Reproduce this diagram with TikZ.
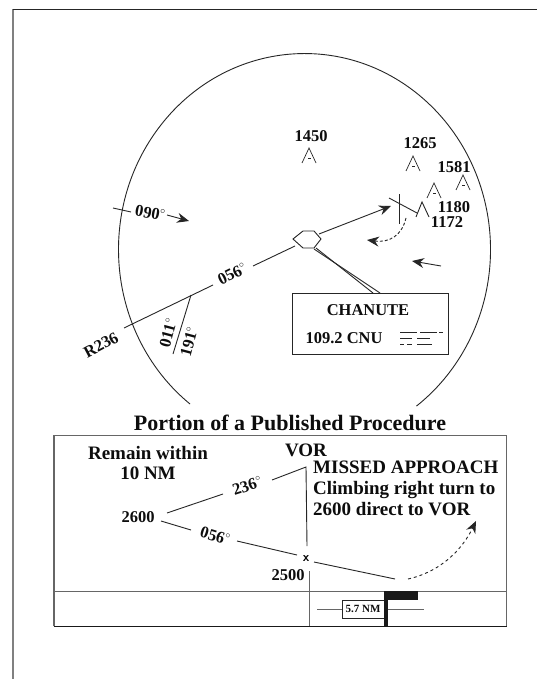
\documentclass[tikz,border=0pt]{standalone}
\usepackage{fontspec}
\setmainfont{Liberation Serif}
\usetikzlibrary{arrows.meta}
\tikzset{
 x=1pt,y=-1pt,
 lbl/.style={font=\bfseries\fontsize{16.5}{18}\selectfont,text=black!95,inner sep=0pt},
 lowlbl/.style={font=\bfseries\fontsize{19}{20.7}\selectfont,text=black!95,inner sep=0pt},
 big/.style={font=\bfseries\fontsize{22}{24}\selectfont,text=black!95,inner sep=0pt},
 smalltxt/.style={font=\bfseries\fontsize{11}{12}\selectfont,text=black!95,inner sep=0pt},
 ln/.style={line width=0.9pt,draw=black!85},
 frame/.style={line width=1pt,draw=black!60},
 arr/.style={line width=0.9pt,draw=black!85,-{Stealth[length=12pt,width=10pt,inset=4pt]}},
 obst/.style={line width=0.7pt,draw=black!85}
}
\newcommand{\degsym}{\raisebox{0.4em}{\fontsize{10}{10}\selectfont$\circ$}}
\newcommand{\obstacle}[2]{\draw[obst] (#1-7,#2+15) -- (#1,#2) -- (#1+7,#2+15); \fill[black!85] (#1-1.5,#2+10) rectangle (#1+1.5,#2+11.2);}
\begin{document}
\begin{tikzpicture}
\useasboundingbox (0,0) rectangle (537,679);
\fill[white] (0,0) rectangle (537,679);
\draw[line width=1.6pt,black!50] (13,9) -- (13,679);
\draw[line width=0.9pt,black!85] (12.5,9) -- (537,9);
% circle
\draw[ln] (190,404) arc[start angle=232,end angle=-53,x radius=186pt,y radius=196pt];
% 090
\node[lbl,rotate=-10] (t090) at (150,213) {090\degsym};
\coordinate (a1) at (113,208); \coordinate (a2) at (131,212);
\draw[ln] (a1) -- (a2);
\coordinate (a3) at (167,215); \coordinate (a4) at (189,221);
\draw[arr] (a3) -- (a4);
% hexagon
\draw[ln,fill=white] (293,239) -- (303,231) -- (314,231) -- (321,239) -- (314,248) -- (303,248) -- cycle;
\coordinate (r1) at (124,328); \coordinate (r2) at (213,285);
\coordinate (r3) at (253,266); \coordinate (r4) at (295,246);
\draw[ln] (r1) -- (r2);
\draw[ln] (r3) -- (r4);
\node[lbl,rotate=26] at (232,274) {056\degsym};
\node[lbl,rotate=28] at (101,345) {R236};
\coordinate (r5) at (319,234); \coordinate (r6) at (391,206);
\draw[arr] (r5) -- (r6);
% radial
\coordinate (s1) at (191,295); \coordinate (s2) at (173,354);
\draw[ln] (s1) -- (s2);
\node[lbl,rotate=75] at (168,333) {011\degsym};
\node[lbl,rotate=75] at (189,342) {191\degsym};
% fix
\draw[ln] (399,194) -- (399,224);
\draw[ln] (389,198) -- (417,213);
\draw[ln] (416,217) -- (422,202) -- (429,217);
\draw[ln,dash pattern=on 3pt off 2pt,-{Stealth[length=12pt,width=10pt,inset=4pt]}] (406,218) .. controls (402,235) and (390,243) .. (367,240);
\draw[arr] (441,266) -- (412,261);
% obstacles
\node[lbl] at (311,136) {1450};
\obstacle{309}{148}
\node[lbl] at (420,143) {1265};
\obstacle{413}{156}
\node[lbl] at (454,167) {1581};
\obstacle{463}{175}
\obstacle{434}{183}
\node[lbl] at (454,207) {1180};
\node[lbl] at (447,222) {1172};
% Chanute
\draw[ln] (316,248) -- (373,293);
\draw[ln] (314,249) -- (380,293);
\node[draw=black!85,line width=0.9pt,fill=white,minimum width=156pt,minimum height=61pt,inner sep=0pt] (box) at (370,323.5) {};
\node[lbl] at (368,310) {CHANUTE};
\node[lbl] at (344,338) {109.2 CNU};
\draw[obst] (400,332) -- (417,332) (420,332) -- (437,332) (439,332) -- (443,332);
\draw[obst] (400,338) -- (412,338) (417,338) -- (430,338);
\draw[obst] (400,344) -- (404,344) (407,344) -- (412,344) (417,344) -- (432,344);
% title
\node[big] at (290,423) {Portion of a Published Procedure};
% lower
\draw[frame] (54,435) -- (506,435) -- (506,626);
\draw[line width=1.4pt,black!60] (54,435) -- (54,626);
\draw[line width=1pt,black!90] (53.5,626) -- (506.5,626);
\draw[frame] (54,591) -- (506,591);
\draw[frame] (309,571) -- (309,626);
\node[lowlbl,align=center] at (148,463) {Remain within\\10 NM};
\node[lowlbl] at (306,450) {VOR};
\node[lowlbl,anchor=west,align=left] at (313,488.5) {MISSED APPROACH\\Climbing right turn to\\2600 direct to VOR};
\node[lbl] at (138,517) {2600};
\node[lbl,rotate=18] at (247,486) {236\degsym};
\node[lbl,rotate=-17] at (215,536) {056\degsym};
\coordinate (v) at (306,467);
\draw[ln] (167,513) -- (223,494);
\draw[ln] (272,480) -- (v) -- (307,546);
\draw[ln] (161,521) -- (191,530);
\draw[ln] (237,541) -- (297,555);
\draw[ln] (314,562) -- (395,579);
\node[font=\bfseries\sffamily\fontsize{13}{13}\selectfont,inner sep=0pt] at (306,559) {x};
\node[lbl] at (288,575) {2500};
\draw[ln,dash pattern=on 3pt off 3pt,-{Stealth[length=12pt,width=10pt,inset=4pt]}] (408,579) .. controls (440,572) and (462,550) .. (476,521);
\fill[black!90] (384,591) rectangle (418,600);
\draw[frame] (317,609) -- (424,609);
\node[draw=black!85,line width=0.7pt,fill=white,minimum width=42pt,minimum height=18pt,inner sep=0pt,smalltxt] at (363,609) {5.7 NM};
\draw[line width=3.6pt,black!90] (386,591) -- (386,626);
\end{tikzpicture}
\end{document}
